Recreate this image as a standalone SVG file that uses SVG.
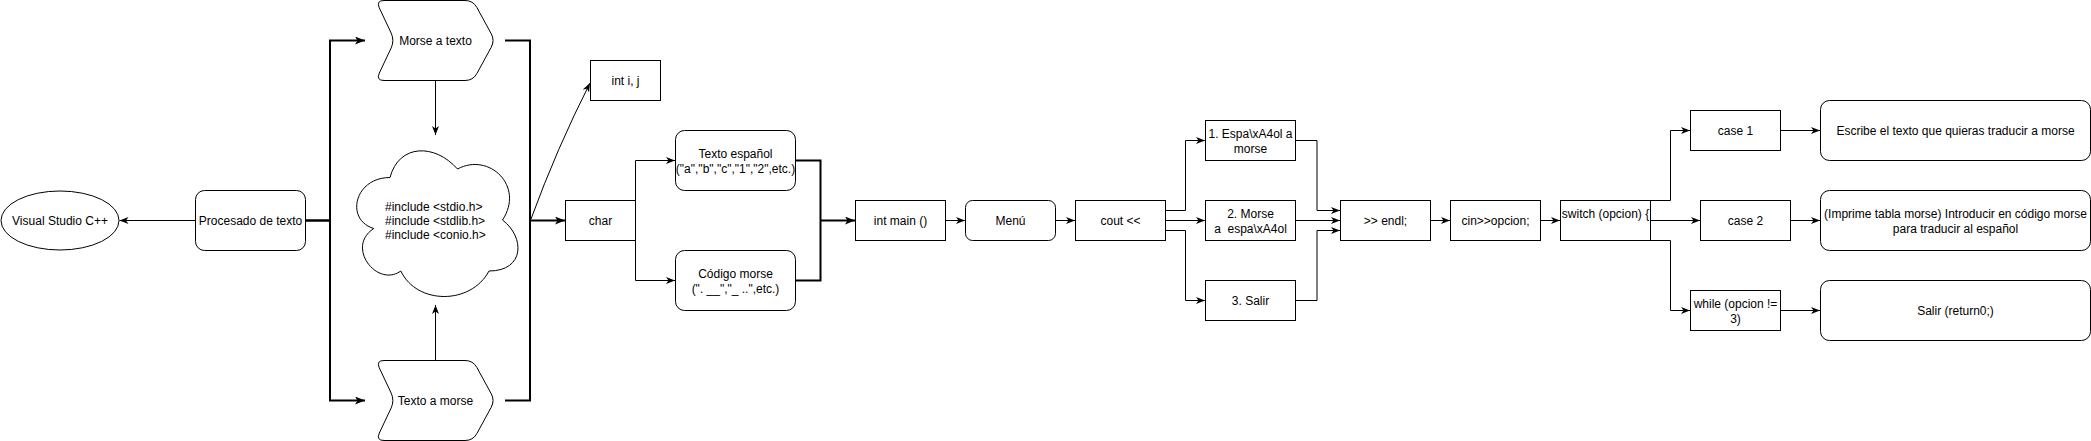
<svg xmlns="http://www.w3.org/2000/svg" xmlns:xlink="http://www.w3.org/1999/xlink" width="2091" height="441" viewBox="0 0 2091 441">
<style>
.n{fill:#fff;stroke:#000;stroke-width:1}
.t{font-family:"Liberation Sans",Arial,sans-serif;font-size:12px;fill:#000;text-anchor:middle}
.l{text-anchor:start}
.c{fill:none;stroke:#000;stroke-width:1}
.ct{fill:none;stroke:#000;stroke-width:2}
</style>
<defs>
<marker id="a" markerUnits="userSpaceOnUse" markerWidth="10" markerHeight="8" refX="9" refY="3.5" orient="auto"><path d="M0,0 L9,3.5 L0,7 L2.5,3.5 Z" fill="#000"/></marker>
<marker id="ab" markerUnits="userSpaceOnUse" markerWidth="11" markerHeight="9" refX="10" refY="4" orient="auto"><path d="M0,0 L10,4 L0,8 L2.5,4 Z" fill="#000"/></marker>
<path id="step" d="M384,0.5 L465,0.5 Q473,0.5 476.9,7.5 L491.1,33.5 Q495,40.5 491.1,47.5 L476.9,73.5 Q473,80.5 465,80.5 L384,80.5 Q376,80.5 379.3,73.1 L391.2,47.9 Q394.5,40.5 391.2,33.1 L379.3,7.9 Q376,0.5 384,0.5 Z"/>
</defs>
<rect width="2091" height="441" fill="#fff"/>
<g id="connectors">
<path class="c" d="M195.5,220.5 H119.5" marker-end="url(#a)"/>
<path class="ct" d="M305.5,220.5 H330 V40.5 H365" marker-end="url(#ab)"/>
<path class="ct" d="M305.5,220.5 H330 V400.5 H365" marker-end="url(#ab)"/>
<path class="c" d="M435.5,80.5 V135" marker-end="url(#a)"/>
<path class="c" d="M435.5,360.5 V305" marker-end="url(#a)"/>
<path class="ct" d="M505,40.5 H530 V220.5"/>
<path class="ct" d="M505,400.5 H530 V220.5 H565" marker-end="url(#ab)"/>
<path class="c" d="M531,219 Q557,148 590,83" marker-end="url(#a)"/>
<path class="c" d="M635.5,200.5 V160.5 H675" marker-end="url(#a)"/>
<path class="c" d="M635.5,240.5 V280.5 H675" marker-end="url(#a)"/>
<path class="ct" d="M795.5,160.5 H820.5 V280.5 H795.5"/>
<path class="ct" d="M820.5,220.5 H855" marker-end="url(#ab)"/>
<path class="c" d="M945.5,220.5 H965" marker-end="url(#a)"/>
<path class="c" d="M1055.5,220.5 H1075" marker-end="url(#a)"/>
<path class="c" d="M1165.5,210.5 H1185.5 V140.5 H1205" marker-end="url(#a)"/>
<path class="c" d="M1165.5,220.5 H1205" marker-end="url(#a)"/>
<path class="c" d="M1165.5,230.5 H1185.5 V300.5 H1205" marker-end="url(#a)"/>
<path class="c" d="M1295.5,140.5 H1317 V210.5 H1340" marker-end="url(#a)"/>
<path class="c" d="M1295.5,220.5 H1340" marker-end="url(#a)"/>
<path class="c" d="M1295.5,300.5 H1317 V230.5 H1340" marker-end="url(#a)"/>
<path class="c" d="M1430.5,220.5 H1450" marker-end="url(#a)"/>
<path class="c" d="M1540.5,220.5 H1560" marker-end="url(#a)"/>
<path class="c" d="M1650.5,200.5 H1670.5 V130.5 H1690" marker-end="url(#a)"/>
<path class="c" d="M1650.5,220.5 H1700" marker-end="url(#a)"/>
<path class="c" d="M1650.5,240.5 H1670.5 V310.5 H1690" marker-end="url(#a)"/>
<path class="c" d="M1780.5,130.5 H1820" marker-end="url(#a)"/>
<path class="c" d="M1790.5,220.5 H1820" marker-end="url(#a)"/>
<path class="c" d="M1780.5,310.5 H1820" marker-end="url(#a)"/>
</g>
<g id="vs"><ellipse class="n" cx="60" cy="220.5" rx="59" ry="29.5"/><text class="t" x="60" y="225">Visual Studio C++</text></g>
<g id="procesado"><rect class="n" x="195.5" y="190.5" width="110" height="60" rx="9"/><text class="t" x="250.5" y="225">Procesado de texto</text></g>
<g id="morse-a-texto"><use xlink:href="#step" class="n"/><text class="t" x="435.5" y="45">Morse a texto</text></g>
<g id="texto-a-morse"><use xlink:href="#step" class="n" y="360"/><text class="t" x="435.5" y="405">Texto a morse</text></g>
<g id="includes"><path class="n" d="M390,177.5 C354,177.5 345,220 373.8,228.5 C345,247.2 377.4,288 400.8,271 C417,305 471,305 489,271 C525,271 525,237 502.5,220 C525,186 489,152 457.5,169 C435,143.5 399,143.5 390,177.5 Z"/>
<text class="t l" x="385" y="210.5">#include &lt;stdio.h&gt;</text><text class="t l" x="385" y="224.9">#include &lt;stdlib.h&gt;</text><text class="t l" x="385" y="239.3">#include &lt;conio.h&gt;</text></g>
<g id="int-ij"><rect class="n" x="590.5" y="60.5" width="70" height="40"/><text class="t" x="625.5" y="85">int i, j</text></g>
<g id="char"><rect class="n" x="565.5" y="200.5" width="70" height="40"/><text class="t" x="600.5" y="225">char</text></g>
<g id="texto-espanol"><rect class="n" x="675.5" y="130.5" width="120" height="60" rx="9"/><text class="t" x="735.5" y="158">Texto español</text><text class="t" x="735.5" y="172.5">("a","b","c","1","2",etc.)</text></g>
<g id="codigo-morse"><rect class="n" x="675.5" y="250.5" width="120" height="60" rx="9"/><text class="t" x="735.5" y="278">Código morse</text><text class="t" x="735.5" y="292.5">(". __","_ ..",etc.)</text></g>
<g id="int-main"><rect class="n" x="855.5" y="200.5" width="90" height="40"/><text class="t" x="900.5" y="225">int main ()</text></g>
<g id="menu"><rect class="n" x="965.5" y="200.5" width="90" height="40" rx="7"/><text class="t" x="1010.5" y="225">Menú</text></g>
<g id="cout"><rect class="n" x="1075.5" y="200.5" width="90" height="40"/><text class="t" x="1120.5" y="225">cout &lt;&lt;</text></g>
<g id="op1"><rect class="n" x="1205.5" y="120.5" width="90" height="40"/><text class="t" x="1250.5" y="138">1. Espa\xA4ol a</text><text class="t" x="1250.5" y="152.5">morse</text></g>
<g id="op2"><rect class="n" x="1205.5" y="200.5" width="90" height="40"/><text class="t" x="1250.5" y="218">2. Morse</text><text class="t" x="1250.5" y="232.5">a&#160; espa\xA4ol</text></g>
<g id="op3"><rect class="n" x="1205.5" y="280.5" width="90" height="40"/><text class="t" x="1250.5" y="305">3. Salir</text></g>
<g id="endl"><rect class="n" x="1340.5" y="200.5" width="90" height="40"/><text class="t" x="1385.5" y="225">&gt;&gt; endl;</text></g>
<g id="cin"><rect class="n" x="1450.5" y="200.5" width="90" height="40"/><text class="t" x="1495.5" y="225">cin&gt;&gt;opcion;</text></g>
<g id="switch"><rect class="n" x="1560.5" y="200.5" width="90" height="40"/><text class="t" x="1605.5" y="218">switch (opcion) {</text></g>
<g id="case1"><rect class="n" x="1690.5" y="110.5" width="90" height="40"/><text class="t" x="1735.5" y="135">case 1</text></g>
<g id="case2"><rect class="n" x="1700.5" y="200.5" width="90" height="40"/><text class="t" x="1745.5" y="225">case 2</text></g>
<g id="while"><rect class="n" x="1690.5" y="290.5" width="90" height="40"/><text class="t" x="1735.5" y="308">while (opcion !=</text><text class="t" x="1735.5" y="322.5">3)</text></g>
<g id="escribe"><rect class="n" x="1820.5" y="100.5" width="270" height="60" rx="9"/><text class="t" x="1955.5" y="135">Escribe el texto que quieras traducir a morse</text></g>
<g id="imprime"><rect class="n" x="1820.5" y="190.5" width="270" height="60" rx="9"/><text class="t" x="1955.5" y="218">(Imprime tabla morse) Introducir en código morse</text><text class="t" x="1955.5" y="232.5">para traducir al español</text></g>
<g id="salir"><rect class="n" x="1820.5" y="280.5" width="270" height="60" rx="9"/><text class="t" x="1955.5" y="315">Salir (return0;)</text></g>
</svg>
